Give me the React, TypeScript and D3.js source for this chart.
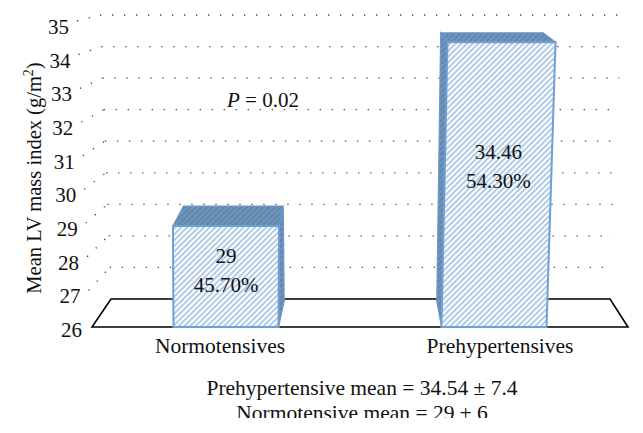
import React from "react";
import * as d3 from "d3";

const categories = ["Normotensives", "Prehypertensives"];
const means = [29, 34.46];
const shares = ["45.70%", "54.30%"];
const yTicks = [26, 27, 28, 29, 30, 31, 32, 33, 34, 35];
const notes = ["Prehypertensive mean = 34.54 ± 7.4", "Normotensive mean = 29 ± 6"];
const pValue = "0.02";

const W = 643;
const H = 433;
const FONT = "Liberation Serif, Times New Roman, serif";

// front and back planes of the 3D box
const yFront = d3.scaleLinear().domain([26, 35]).range([327, 24]);
const yBack = d3.scaleLinear().domain([26, 35]).range([299, 15]);
const xFrontL = d3.scaleLinear().domain([26, 35]).range([92, 88]);
const xFrontR = d3.scaleLinear().domain([26, 35]).range([628, 640]);
const xBackL = d3.scaleLinear().domain([26, 35]).range([111, 100]);
const xBackR = d3.scaleLinear().domain([26, 35]).range([610, 622]);
const xTick = d3.scaleLinear().domain([26, 35]).range([90, 77]);

const uScale = d3.scalePoint<string>().domain(categories).range([0, 1]).padding(0.5);
const barW = 0.196;
const barDepth = 0.92;
const base = 26;

function proj(u: number, v: number, d: number): [number, number] {
  const y = yFront(v) + (yBack(v) - yFront(v)) * d;
  const xl = xFrontL(v) + (xBackL(v) - xFrontL(v)) * d;
  const xr = xFrontR(v) + (xBackR(v) - xFrontR(v)) * d;
  return [xl + (xr - xl) * u, y];
}

const poly = (pts: [number, number][]) => pts.map((p) => p.join(",")).join(" ");

const App: React.FC = () => {
  const floor = poly([proj(0, base, 0), proj(1, base, 0), proj(1, base, 1), proj(0, base, 1)]);

  return (
    <svg width={W} height={H} style={{ position: "absolute", left: 0, top: 0, background: "#fff" }}>
      <defs>
        <pattern id="hatchFront" patternUnits="userSpaceOnUse" width={4} height={4} patternTransform="rotate(45)">
          <rect width={4} height={4} fill="#fff" />
          <line x1={1} y1={0} x2={1} y2={4} stroke="#86b0dd" strokeWidth={1.3} />
        </pattern>
        <pattern id="hatchDark" patternUnits="userSpaceOnUse" width={4} height={4} patternTransform="rotate(45)">
          <rect width={4} height={4} fill="#7195bb" />
          <line x1={1} y1={0} x2={1} y2={4} stroke="#5a7fa6" strokeWidth={1.3} />
        </pattern>
        <clipPath id="clipNotes">
          <rect x={0} y={0} width={W} height={418} />
        </clipPath>
      </defs>

      <polygon points={floor} fill="#fff" stroke="#000" strokeWidth={1.6} strokeLinejoin="miter" />

      {yTicks.slice(1).map((t) => {
        const [bx1, by1] = proj(0, t, 1);
        const [bx2, by2] = proj(1, t, 1);
        return (
          <g key={t} stroke="#444" strokeWidth={1.3} strokeDasharray="1.3 10.7" fill="none">
            <line x1={xTick(t)} y1={yFront(t) - 3} x2={bx1} y2={by1} />
            <line x1={bx1} y1={by1} x2={bx2} y2={by2} />
          </g>
        );
      })}

      {yTicks.map((t) => (
        <text key={t} x={xTick(t) - 8} y={yFront(t) + 10} textAnchor="end" fontSize={21} fill="#111" fontFamily={FONT}>
          {t}
        </text>
      ))}

      {categories.map((c, i) => {
        const uc = uScale(c)!;
        const u0 = uc - barW / 2;
        const u1 = uc + barW / 2;
        const v = means[i];
        const front = poly([proj(u0, base, 0), proj(u1, base, 0), proj(u1, v, 0), proj(u0, v, 0)]);
        const top = poly([proj(u0, v, 0), proj(u1, v, 0), proj(u1, v, barDepth), proj(u0, v, barDepth)]);
        const su = uc < 0.5 ? u1 : u0;
        const side = poly([proj(su, base, 0), proj(su, v, 0), proj(su, v, barDepth), proj(su, base, barDepth)]);
        const [lx, ly] = proj(uc, base + (v - base) * 0.57, 0);
        return (
          <g key={c} fontFamily={FONT} fill="#111">
            <polygon points={side} fill="url(#hatchDark)" stroke="#6d98c8" strokeWidth={1.2} />
            <polygon points={top} fill="url(#hatchDark)" stroke="#6d98c8" strokeWidth={1.2} />
            <polygon points={front} fill="url(#hatchFront)" stroke="#6fa0d4" strokeWidth={2} />
            <text x={lx} y={ly - 6} textAnchor="middle" fontSize={21}>
              {v}
            </text>
            <text x={lx} y={ly + 23} textAnchor="middle" fontSize={21}>
              {shares[i]}
            </text>
            <text x={proj(uc, base, 0)[0] + (uc < 0.5 ? -6 : 6)} y={353} textAnchor="middle" fontSize={21.5}>
              {c}
            </text>
          </g>
        );
      })}

      <text x={227} y={107} fontSize={21} fill="#111" fontFamily={FONT}>
        <tspan fontStyle="italic">P</tspan> = {pValue}
      </text>

      <text
        transform={`translate(41,178) rotate(-90)`}
        textAnchor="middle"
        fontSize={20.5}
        fill="#111"
        fontFamily={FONT}
      >
        Mean LV mass index (g/m<tspan dy={-8} fontSize={14}>2</tspan><tspan dy={8}>)</tspan>
      </text>

      <g clipPath="url(#clipNotes)" fontSize={21.5} fill="#111" fontFamily={FONT}>
        <text x={362} y={395} textAnchor="middle">{notes[0]}</text>
        <text x={362} y={420} textAnchor="middle">{notes[1]}</text>
      </g>
    </svg>
  );
};

export default App;
